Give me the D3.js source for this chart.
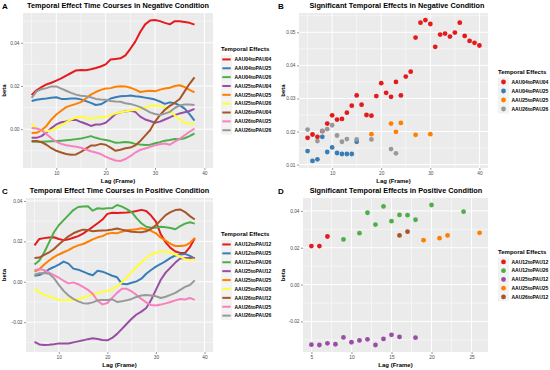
<!DOCTYPE html>
<html>
<head>
<meta charset="utf-8">
<script src="https://cdn.jsdelivr.net/npm/d3@7"></script>
<style>
  body { margin: 0; background: #fff; }
  text { font-family: "Liberation Sans", Arial, sans-serif; }
</style>
</head>
<body>
<div id="chart"></div>
<script>
// ---- data ----
var lagsLine = d3.range(5, 39);   // 5..38
var negNames = ["AAU04toPAU04", "AAU04toPAU25", "AAU04toPAU26", "AAU25toPAU04", "AAU25toPAU25",
                "AAU25toPAU26", "AAU26toPAU04", "AAU26toPAU25", "AAU26toPAU26"];
var posNames = ["AAU12toPAU12", "AAU12toPAU25", "AAU12toPAU26", "AAU25toPAU12", "AAU25toPAU25",
                "AAU25toPAU26", "AAU26toPAU12", "AAU26toPAU25", "AAU26toPAU26"];
var set1 = ["#E41A1C", "#377EB8", "#4DAF4A", "#984EA3", "#FF7F00", "#FFFF33", "#A65628", "#F781BF", "#999999"];

// panel A: negative condition time courses (lag 5..38)
var negAU04toPAU04 = [0.0158,0.0180,0.0195,0.0207,0.0215,0.0225,0.0235,0.0248,0.0260,0.0272,0.0274,0.0273,0.0277,0.0283,0.0290,0.0300,0.0322,0.0325,0.0328,0.0342,0.0372,0.0405,0.0450,0.0485,0.0503,0.0505,0.0500,0.0492,0.0485,0.0500,0.0499,0.0496,0.0492,0.0484];
var negAU04toPAU25 = [0.0130,0.0136,0.0140,0.0142,0.0145,0.0148,0.0140,0.0140,0.0142,0.0142,0.0138,0.0130,0.0122,0.0112,0.0115,0.0128,0.0142,0.0148,0.0152,0.0153,0.0156,0.0152,0.0150,0.0146,0.0142,0.0137,0.0128,0.0117,0.0124,0.0120,0.0110,0.0095,0.0070,0.0040];
var negAU04toPAU26 = [-0.0058,-0.0058,-0.0058,-0.0057,-0.0056,-0.0055,-0.0053,-0.0051,-0.0049,-0.0046,-0.0043,-0.0038,-0.0032,-0.0040,-0.0046,-0.0050,-0.0055,-0.0063,-0.0062,-0.0059,-0.0062,-0.0068,-0.0071,-0.0073,-0.0072,-0.0065,-0.0060,-0.0053,-0.0050,-0.0045,-0.0047,-0.0042,-0.0032,-0.0020];
var negAU25toPAU04 = [-0.0040,-0.0040,-0.0032,-0.0015,0.0005,0.0022,0.0032,0.0036,0.0042,0.0043,0.0033,0.0025,0.0015,0.0022,0.0022,0.0030,0.0050,0.0070,0.0078,0.0082,0.0085,0.0080,0.0058,0.0045,0.0038,0.0030,0.0035,0.0045,0.0055,0.0065,0.0073,0.0078,0.0084,0.0094];
var negAU25toPAU25 = [-0.0018,-0.0017,-0.0005,0.0015,0.0045,0.0068,0.0085,0.0102,0.0110,0.0117,0.0125,0.0142,0.0160,0.0172,0.0182,0.0188,0.0190,0.0196,0.0199,0.0198,0.0192,0.0183,0.0172,0.0176,0.0178,0.0175,0.0183,0.0188,0.0192,0.0200,0.0203,0.0195,0.0182,0.0170];
var negAU25toPAU26 = [0.0025,0.0005,-0.0008,-0.0010,-0.0005,0.0005,0.0018,0.0032,0.0045,0.0055,0.0056,0.0053,0.0048,0.0052,0.0055,0.0057,0.0065,0.0073,0.0078,0.0082,0.0086,0.0090,0.0095,0.0100,0.0108,0.0110,0.0108,0.0100,0.0085,0.0065,0.0045,0.0030,0.0024,0.0026];
var negAU26toPAU04 = [-0.0055,-0.0055,-0.0060,-0.0072,-0.0088,-0.0100,-0.0108,-0.0115,-0.0118,-0.0117,-0.0105,-0.0090,-0.0076,-0.0075,-0.0068,-0.0072,-0.0085,-0.0100,-0.0095,-0.0088,-0.0085,-0.0075,-0.0055,-0.0030,-0.0005,0.0035,0.0065,0.0090,0.0108,0.0122,0.0140,0.0175,0.0210,0.0240];
var negAU26toPAU25 = [0.0005,0.0003,-0.0005,-0.0022,-0.0042,-0.0058,-0.0068,-0.0074,-0.0078,-0.0081,-0.0086,-0.0094,-0.0102,-0.0108,-0.0115,-0.0127,-0.0137,-0.0145,-0.0147,-0.0138,-0.0125,-0.0108,-0.0096,-0.0089,-0.0082,-0.0075,-0.0070,-0.0066,-0.0072,-0.0058,-0.0045,-0.0028,-0.0012,0.0003];
var negAU26toPAU26 = [0.0145,0.0175,0.0185,0.0190,0.0198,0.0198,0.0188,0.0178,0.0168,0.0160,0.0155,0.0152,0.0148,0.0140,0.0137,0.0136,0.0130,0.0128,0.0127,0.0120,0.0117,0.0110,0.0102,0.0090,0.0078,0.0070,0.0066,0.0072,0.0080,0.0098,0.0110,0.0114,0.0114,0.0112];

// panel C: positive condition time courses (lag 5..38)
var posAU12toPAU12 = [0.0180,0.0212,0.0216,0.0219,0.0220,0.0212,0.0206,0.0210,0.0218,0.0226,0.0238,0.0255,0.0272,0.0290,0.0308,0.0336,0.0342,0.0341,0.0342,0.0343,0.0345,0.0350,0.0356,0.0350,0.0328,0.0298,0.0235,0.0195,0.0168,0.0150,0.0143,0.0143,0.0172,0.0215];
var posAU12toPAU25 = [0.0030,0.0033,0.0045,0.0062,0.0073,0.0085,0.0100,0.0090,0.0065,0.0060,0.0050,0.0040,0.0032,0.0055,0.0050,0.0040,0.0030,0.0022,-0.0010,-0.0012,-0.0005,0.0002,0.0015,0.0040,0.0058,0.0075,0.0088,0.0102,0.0118,0.0130,0.0135,0.0138,0.0128,0.0114];
var posAU12toPAU26 = [0.0085,0.0105,0.0145,0.0195,0.0245,0.0280,0.0305,0.0330,0.0355,0.0370,0.0372,0.0374,0.0352,0.0364,0.0362,0.0364,0.0365,0.0380,0.0372,0.0360,0.0345,0.0315,0.0290,0.0272,0.0267,0.0268,0.0272,0.0270,0.0266,0.0260,0.0275,0.0288,0.0295,0.0288];
var posAU25toPAU12 = [-0.0297,-0.0310,-0.0313,-0.0312,-0.0309,-0.0305,-0.0305,-0.0306,-0.0300,-0.0295,-0.0290,-0.0284,-0.0280,-0.0283,-0.0288,-0.0290,-0.0278,-0.0258,-0.0233,-0.0208,-0.0183,-0.0162,-0.0148,-0.0130,-0.0090,-0.0040,0.0010,0.0045,0.0070,0.0095,0.0115,0.0118,0.0118,0.0118];
var posAU25toPAU25 = [0.0050,0.0062,0.0085,0.0105,0.0122,0.0135,0.0146,0.0157,0.0170,0.0180,0.0187,0.0198,0.0210,0.0220,0.0226,0.0238,0.0242,0.0240,0.0248,0.0255,0.0258,0.0260,0.0265,0.0260,0.0252,0.0240,0.0218,0.0204,0.0188,0.0177,0.0177,0.0179,0.0192,0.0217];
var posAU25toPAU26 = [-0.0035,-0.0052,-0.0065,-0.0072,-0.0080,-0.0090,-0.0092,-0.0090,-0.0090,-0.0087,-0.0078,-0.0070,-0.0063,-0.0056,-0.0050,-0.0046,-0.0036,-0.0022,-0.0002,0.0022,0.0048,0.0072,0.0095,0.0118,0.0135,0.0145,0.0150,0.0150,0.0145,0.0135,0.0125,0.0112,0.0108,0.0110];
var posAU26toPAU12 = [0.0118,0.0120,0.0133,0.0145,0.0162,0.0184,0.0205,0.0225,0.0240,0.0250,0.0258,0.0256,0.0250,0.0252,0.0254,0.0255,0.0259,0.0264,0.0258,0.0253,0.0248,0.0246,0.0245,0.0250,0.0262,0.0280,0.0305,0.0330,0.0345,0.0355,0.0358,0.0345,0.0325,0.0308];
var posAU26toPAU25 = [0.0058,0.0062,0.0058,0.0045,0.0033,0.0020,0.0005,-0.0008,-0.0003,-0.0012,-0.0025,-0.0040,-0.0060,-0.0095,-0.0112,-0.0105,-0.0080,-0.0055,-0.0035,-0.0035,-0.0048,-0.0065,-0.0085,-0.0102,-0.0115,-0.0117,-0.0113,-0.0107,-0.0100,-0.0092,-0.0085,-0.0088,-0.0080,-0.0090];
var posAU26toPAU26 = [0.0035,0.0042,0.0043,0.0040,0.0018,-0.0015,-0.0045,-0.0068,-0.0085,-0.0097,-0.0106,-0.0108,-0.0102,-0.0092,-0.0090,-0.0090,-0.0087,-0.0100,-0.0097,-0.0092,-0.0085,-0.0075,-0.0068,-0.0066,-0.0068,-0.0072,-0.0080,-0.0074,-0.0065,-0.0055,-0.0040,-0.0025,-0.0016,0.0007];

// panel B: significant effects, negative condition
var bRedLag = d3.range(5, 41);
var bRedBeta = [0.0181,0.0191,0.0184,0.0201,0.0224,0.0249,0.0236,0.0238,0.0257,0.0278,0.0309,0.0281,0.0250,0.0248,0.0307,0.0346,0.0317,0.0305,0.0350,0.0309,0.0366,0.0381,0.0484,0.0529,0.0537,0.0525,0.0456,0.0493,0.0496,0.0487,0.0499,0.0529,0.0489,0.0474,0.0468,0.0460];
var bBlueLag = [5,6,7,8,9,10,11,12,13,14,15];
var bBlueBeta = [0.0141,0.0111,0.0116,0.0184,0.0138,0.0152,0.0135,0.0132,0.0132,0.0132,0.0169];
var bOrangeLag = [18,22,23,24,27,30];
var bOrangeBeta = [0.0192,0.0224,0.0199,0.0226,0.0190,0.0192];
var bGrayLag = [5,7,8,9,10,11,12,13,15,18,22,23];
var bGrayBeta = [0.0206,0.0171,0.0202,0.0207,0.0219,0.0188,0.0169,0.0177,0.0176,0.0176,0.0147,0.0134];

// panel D: significant effects, positive condition
var dRedLag = [5,6,7];
var dRedBeta = [0.0209,0.0209,0.0261];
var dGreenLag = [9,11,12,13,14,15,16,17,18,20,24];
var dGreenBeta = [0.0245,0.0279,0.0390,0.0326,0.0424,0.0344,0.0378,0.0377,0.0352,0.0432,0.0396];
var dPurpleLag = [5,6,7,8,9,10,11,12,13,14,15,16,18];
var dPurpleBeta = [-0.0326,-0.0328,-0.0319,-0.0324,-0.0287,-0.0313,-0.0303,-0.0297,-0.0328,-0.0295,-0.0273,-0.0284,-0.0288];
var dOrangeLag = [19,21,22,26];
var dOrangeBeta = [0.0241,0.0252,0.0267,0.0281];
var dBrownLag = [16,17];
var dBrownBeta = [0.0267,0.0287];

// ---- build series ----
var negLines = [negAU04toPAU04, negAU04toPAU25, negAU04toPAU26, negAU25toPAU04, negAU25toPAU25,
                negAU25toPAU26, negAU26toPAU04, negAU26toPAU25, negAU26toPAU26]
  .map((v, i) => ({name: negNames[i], color: set1[i], values: v.map((b, j) => ({lag: lagsLine[j], beta: b}))}));
var posLines = [posAU12toPAU12, posAU12toPAU25, posAU12toPAU26, posAU25toPAU12, posAU25toPAU25,
                posAU25toPAU26, posAU26toPAU12, posAU26toPAU25, posAU26toPAU26]
  .map((v, i) => ({name: posNames[i], color: set1[i], values: v.map((b, j) => ({lag: lagsLine[j], beta: b}))}));

function pts(lags, betas) { return lags.map((l, i) => ({lag: l, beta: betas[i]})); }
var negPoints = [
  {name: "AAU04toPAU04", color: set1[0], values: pts(bRedLag, bRedBeta)},
  {name: "AAU04toPAU25", color: set1[1], values: pts(bBlueLag, bBlueBeta)},
  {name: "AAU25toPAU25", color: set1[4], values: pts(bOrangeLag, bOrangeBeta)},
  {name: "AAU26toPAU26", color: set1[8], values: pts(bGrayLag, bGrayBeta)}
];
var posPoints = [
  {name: "AAU12toPAU12", color: set1[0], values: pts(dRedLag, dRedBeta)},
  {name: "AAU12toPAU26", color: set1[2], values: pts(dGreenLag, dGreenBeta)},
  {name: "AAU25toPAU12", color: set1[3], values: pts(dPurpleLag, dPurpleBeta)},
  {name: "AAU25toPAU25", color: set1[4], values: pts(dOrangeLag, dOrangeBeta)},
  {name: "AAU26toPAU12", color: set1[6], values: pts(dBrownLag, dBrownBeta)}
];

// ---- svg ----
var svg = d3.select("#chart").append("svg")
    .attr("width", 550)
    .attr("height", 370);

function expand(ext, f) {
  var r = ext[1] - ext[0];
  return [ext[0] - r * f, ext[1] + r * f];
}

function drawPanel(cfg) {
  var g = svg.append("g");
  var p = cfg.box;
  var allVals = d3.merge(cfg.series.map(s => s.values));
  var xDomain = cfg.xDomain || expand(d3.extent(allVals, d => d.lag), 0.05);
  var x = d3.scaleLinear().domain(xDomain).range([p.x0, p.x1]);
  var y = d3.scaleLinear().domain(expand(d3.extent(allVals, d => d.beta), 0.05)).range([p.y1, p.y0]);

  g.append("rect")
    .attr("x", p.x0).attr("y", p.y0)
    .attr("width", p.x1 - p.x0).attr("height", p.y1 - p.y0)
    .attr("fill", "#ebebeb");

  // minor grid
  var xMinor = d3.pairs(cfg.xTicks).map(d => (d[0] + d[1]) / 2);
  xMinor.unshift(cfg.xTicks[0] - (cfg.xTicks[1] - cfg.xTicks[0]) / 2);
  var yMinor = d3.pairs(cfg.yTicks).map(d => (d[0] + d[1]) / 2);
  var ys = cfg.yTicks[1] - cfg.yTicks[0];
  yMinor.unshift(cfg.yTicks[0] - ys / 2);
  yMinor.push(cfg.yTicks[cfg.yTicks.length - 1] + ys / 2);
  xMinor = xMinor.filter(v => v > xDomain[0] && v < xDomain[1]);
  yMinor = yMinor.filter(v => v > y.domain()[0] && v < y.domain()[1]);

  g.selectAll(".xmin").data(xMinor).enter().append("line")
    .attr("x1", d => x(d)).attr("x2", d => x(d)).attr("y1", p.y0).attr("y2", p.y1)
    .attr("stroke", "#fff").attr("stroke-width", 0.5);
  g.selectAll(".ymin").data(yMinor).enter().append("line")
    .attr("x1", p.x0).attr("x2", p.x1).attr("y1", d => y(d)).attr("y2", d => y(d))
    .attr("stroke", "#fff").attr("stroke-width", 0.5);
  g.selectAll(".xmaj").data(cfg.xTicks).enter().append("line")
    .attr("x1", d => x(d)).attr("x2", d => x(d)).attr("y1", p.y0).attr("y2", p.y1)
    .attr("stroke", "#fff").attr("stroke-width", 1);
  g.selectAll(".ymaj").data(cfg.yTicks).enter().append("line")
    .attr("x1", p.x0).attr("x2", p.x1).attr("y1", d => y(d)).attr("y2", d => y(d))
    .attr("stroke", "#fff").attr("stroke-width", 1);

  // axes
  var xAxis = g.append("g")
    .attr("transform", `translate(0, ${p.y1})`)
    .call(d3.axisBottom(x).tickValues(cfg.xTicks).tickSize(2).tickPadding(1.5));
  var yAxis = g.append("g")
    .attr("transform", `translate(${p.x0}, 0)`)
    .call(d3.axisLeft(y).tickValues(cfg.yTicks).tickSize(2).tickPadding(1.5)
      .tickFormat(d => d.toFixed(2)));
  [xAxis, yAxis].forEach(function(a) {
    a.select(".domain").remove();
    a.selectAll(".tick line").attr("stroke", "#333").attr("stroke-width", 0.5);
    a.selectAll(".tick text").attr("fill", "#4d4d4d").style("font-size", "4.8px")
      .style("font-family", "Liberation Sans, Arial, sans-serif");
  });

  // marks
  if (cfg.type === "line") {
    var line = d3.line().x(d => x(d.lag)).y(d => y(d.beta));
    g.selectAll(".series").data(cfg.series).enter().append("path")
      .attr("d", d => line(d.values))
      .attr("fill", "none")
      .attr("stroke", d => d.color)
      .attr("stroke-width", 2)
      .attr("stroke-linejoin", "round");
  } else {
    cfg.series.forEach(function(s) {
      g.selectAll(null).data(s.values).enter().append("circle")
        .attr("cx", d => x(d.lag)).attr("cy", d => y(d.beta))
        .attr("r", 2.4).attr("fill", s.color);
    });
  }

  // titles
  g.append("text").attr("x", cfg.tag[0]).attr("y", cfg.tag[1])
    .attr("font-weight", "bold").style("font-size", "8px").text(cfg.letter);
  g.append("text").attr("x", cfg.titleX).attr("y", p.y0 - 5)
    .attr("text-anchor", "middle").attr("font-weight", "bold")
    .style("font-size", "7.3px").text(cfg.title);
  g.append("text").attr("x", (p.x0 + p.x1) / 2).attr("y", p.y1 + 14.5)
    .attr("text-anchor", "middle").attr("font-weight", "bold")
    .style("font-size", "6px").text("Lag (Frame)");
  g.append("text")
    .attr("transform", `translate(${cfg.betaX}, ${(p.y0 + p.y1) / 2}) rotate(-90)`)
    .attr("text-anchor", "middle").attr("font-weight", "bold")
    .style("font-size", "6px").text("beta");

  // legend
  var L = cfg.legend;
  g.append("text").attr("x", L.x).attr("y", L.y)
    .attr("font-weight", "bold").style("font-size", "6px").text("Temporal Effects");
  var keyH = L.step, keyW = 11;
  var items = g.selectAll(".key").data(cfg.series).enter().append("g")
    .attr("transform", (d, i) => `translate(${L.x}, ${L.y + 4 + i * keyH})`);
  items.append("rect").attr("width", keyW).attr("height", keyH).attr("fill", "#f2f2f2");
  if (cfg.type === "line") {
    items.append("line").attr("x1", 1.3).attr("x2", keyW - 1.3)
      .attr("y1", keyH / 2).attr("y2", keyH / 2)
      .attr("stroke", d => d.color).attr("stroke-width", 2);
  } else {
    items.append("circle").attr("cx", keyW / 2).attr("cy", keyH / 2).attr("r", 2.4)
      .attr("fill", d => d.color);
  }
  items.append("text").attr("x", keyW + 2.5).attr("y", keyH / 2 + 1.8)
    .attr("font-weight", "bold").style("font-size", "5px").text(d => d.name);
}

drawPanel({
  type: "line", series: negLines, letter: "A", tag: [2, 9],
  title: "Temporal Effect Time Courses in Negative Condition", titleX: 118,
  box: {x0: 23, x1: 213, y0: 13, y1: 168}, xDomain: [3.25, 41.75],
  xTicks: [10, 20, 30, 40], yTicks: [0, 0.02, 0.04], betaX: 6,
  legend: {x: 221, y: 51, step: 8.85}
});
drawPanel({
  type: "point", series: negPoints, letter: "B", tag: [278, 9],
  title: "Significant Temporal Effects in Negative Condition", titleX: 397,
  box: {x0: 299, x1: 488, y0: 13, y1: 168}, xDomain: [3.25, 41.75],
  xTicks: [10, 20, 30, 40], yTicks: [0.01, 0.02, 0.03, 0.04, 0.05], betaX: 285,
  legend: {x: 498, y: 73.5, step: 9}
});
drawPanel({
  type: "line", series: posLines, letter: "C", tag: [2, 194],
  title: "Temporal Effect Time Courses in Positive Condition", titleX: 119.5,
  box: {x0: 26, x1: 213, y0: 198, y1: 352}, xDomain: [3.25, 41.75],
  xTicks: [10, 20, 30, 40], yTicks: [-0.02, 0, 0.02, 0.04], betaX: 6,
  legend: {x: 221, y: 236, step: 8.9}
});
drawPanel({
  type: "point", series: posPoints, letter: "D", tag: [278, 194],
  title: "Significant Temporal Effects in Positive Condition", titleX: 396,
  box: {x0: 303, x1: 488, y0: 198, y1: 352},
  xTicks: [5, 10, 15, 20, 25], yTicks: [-0.02, 0, 0.02, 0.04], betaX: 285,
  legend: {x: 498, y: 253.5, step: 8.75}
});
</script>
</body>
</html>
